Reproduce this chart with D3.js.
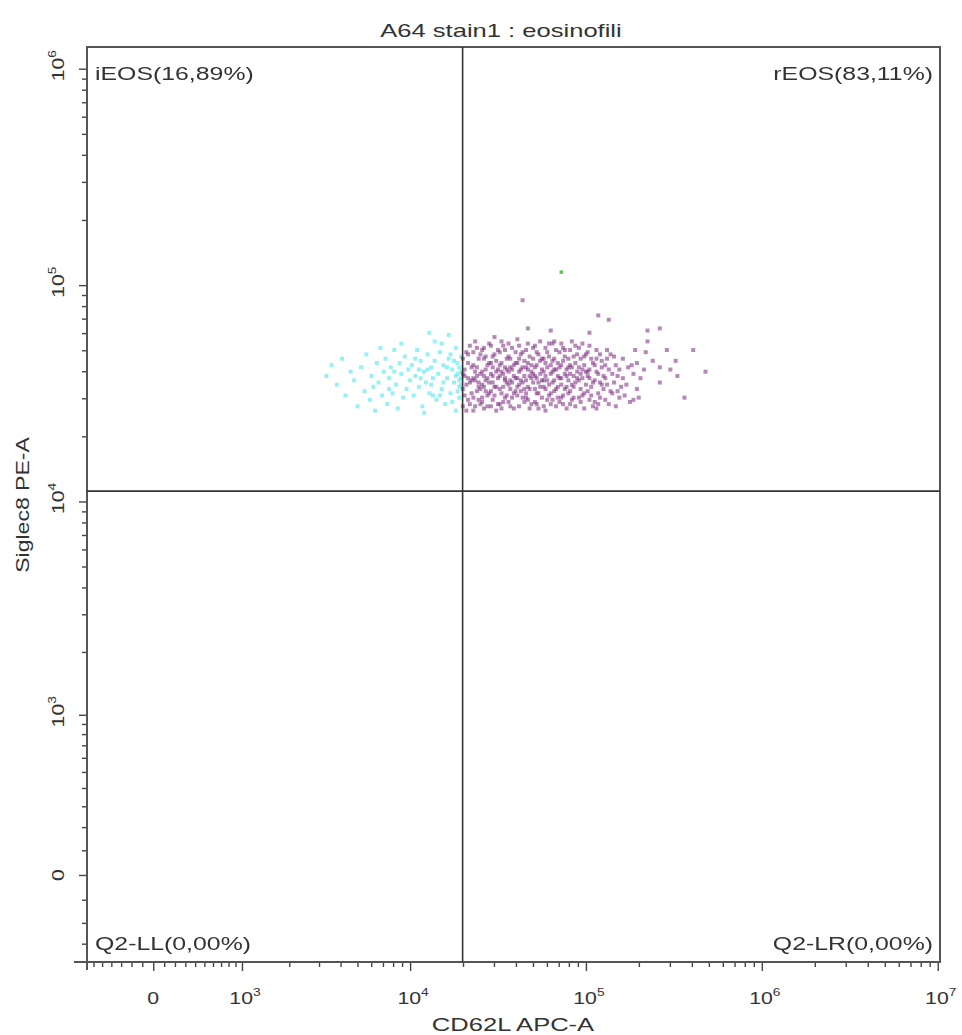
<!DOCTYPE html>
<html>
<head>
<meta charset="utf-8">
<script src="https://cdn.jsdelivr.net/npm/d3@7"></script>
<style>
  body { margin: 0; background: #fff; }
  text { font-family: "Liberation Sans", Arial, sans-serif; fill: #333; }
</style>
</head>
<body>
<svg id="chart" width="962" height="1035"></svg>
<script>
const title = "A64 stain1 : eosinofili";
const xLabel = "CD62L APC-A";
const yLabel = "Siglec8 PE-A";

// biexponential display ranges (raw intensity)
const xDomain = [-680, 1.03e7];
const yDomain = [-400, 1.26e6];
const xMajor = [0, 1e3, 1e4, 1e5, 1e6, 1e7];
const yMajor = [0, 1e3, 1e4, 1e5, 1e6];

// quadrant gate
const gateX = 19900;
const gateY = 11170;
const quadrants = [
  { name: "iEOS(16,89%)", corner: "tl" },
  { name: "rEOS(83,11%)", corner: "tr" },
  { name: "Q2-LL(0,00%)", corner: "bl" },
  { name: "Q2-LR(0,00%)", corner: "br" }
];

// events, log10(CD62L), log10(Siglec8)
const reosLog = [
  [4.30,4.52],[4.31,4.61],[4.33,4.47],[4.32,4.69],[4.34,4.55],[4.30,4.44],[4.31,4.58],[4.33,4.64],[4.35,4.50],[4.32,4.42],
  [4.34,4.72],[4.30,4.66],[4.33,4.57],[4.31,4.49],[4.35,4.62],[4.32,4.54],[4.34,4.45],[4.30,4.59],[4.33,4.68],[4.35,4.56],
  [4.36,4.48],[4.37,4.60],[4.39,4.53],[4.38,4.71],[4.36,4.63],[4.40,4.45],[4.37,4.56],[4.39,4.66],[4.36,4.42],[4.38,4.51],
  [4.40,4.59],[4.37,4.74],[4.39,4.47],[4.36,4.57],[4.38,4.62],[4.40,4.68],[4.37,4.44],[4.39,4.55],[4.36,4.69],[4.38,4.58],[4.40,4.52],
  [4.41,4.46],[4.42,4.58],[4.44,4.63],[4.43,4.51],[4.41,4.70],[4.45,4.55],[4.42,4.43],[4.44,4.49],[4.43,4.67],[4.41,4.60],
  [4.45,4.73],[4.42,4.53],[4.44,4.57],[4.43,4.61],[4.41,4.48],[4.45,4.64],[4.42,4.66],[4.44,4.44],[4.43,4.56],[4.41,4.54],[4.45,4.50],[4.42,4.71],
  [4.46,4.59],[4.47,4.47],[4.49,4.65],[4.48,4.53],[4.46,4.72],[4.50,4.57],[4.47,4.62],[4.49,4.42],[4.48,4.68],[4.46,4.51],
  [4.50,4.45],[4.47,4.55],[4.49,4.60],[4.48,4.49],[4.46,4.64],[4.50,4.70],[4.47,4.58],[4.49,4.53],[4.48,4.76],[4.46,4.44],[4.50,4.61],[4.47,4.67],
  [4.51,4.52],[4.52,4.64],[4.54,4.48],[4.53,4.59],[4.51,4.69],[4.55,4.55],[4.52,4.43],[4.54,4.62],[4.53,4.72],[4.51,4.58],
  [4.55,4.66],[4.52,4.50],[4.54,4.56],[4.53,4.46],[4.51,4.63],[4.55,4.49],[4.52,4.60],[4.54,4.70],[4.53,4.53],[4.51,4.45],[4.55,4.61],[4.52,4.74],[4.54,4.57],
  [4.56,4.54],[4.57,4.66],[4.59,4.50],[4.58,4.61],[4.56,4.73],[4.60,4.57],[4.57,4.44],[4.59,4.63],[4.58,4.48],[4.56,4.60],
  [4.60,4.69],[4.57,4.52],[4.59,4.58],[4.58,4.71],[4.56,4.46],[4.60,4.51],[4.57,4.62],[4.59,4.43],[4.58,4.55],[4.56,4.67],[4.60,4.64],[4.57,4.56],
  [4.61,4.49],[4.62,4.60],[4.64,4.55],[4.63,4.68],[4.61,4.57],[4.65,4.46],[4.62,4.72],[4.64,4.62],[4.63,4.51],[4.61,4.64],
  [4.65,4.58],[4.62,4.44],[4.64,4.69],[4.63,4.56],[4.61,4.53],[4.65,4.65],[4.62,4.54],[4.64,4.48],[4.63,4.61],[4.61,4.75],[4.65,4.52],[4.62,4.66],
  [4.66,4.56],[4.67,4.47],[4.69,4.63],[4.68,4.52],[4.66,4.70],[4.70,4.59],[4.67,4.61],[4.69,4.45],[4.68,4.67],[4.66,4.50],
  [4.70,4.55],[4.67,4.73],[4.69,4.57],[4.68,4.43],[4.66,4.62],[4.70,4.66],[4.67,4.53],[4.69,4.60],[4.68,4.58],[4.66,4.48],[4.70,4.71],[4.67,4.64],
  [4.71,4.58],[4.72,4.50],[4.74,4.65],[4.73,4.55],[4.71,4.72],[4.75,4.61],[4.72,4.45],[4.74,4.53],[4.73,4.68],[4.71,4.62],
  [4.75,4.48],[4.72,4.57],[4.74,4.74],[4.73,4.43],[4.71,4.52],[4.75,4.66],[4.72,4.63],[4.74,4.59],[4.73,4.50],[4.71,4.46],[4.75,4.56],[4.72,4.69],
  [4.76,4.60],[4.77,4.52],[4.79,4.67],[4.78,4.47],[4.76,4.56],[4.80,4.63],[4.77,4.71],[4.79,4.54],[4.78,4.62],[4.76,4.44],
  [4.80,4.50],[4.77,4.58],[4.79,4.73],[4.78,4.56],[4.76,4.66],[4.80,4.45],[4.77,4.64],[4.79,4.49],[4.78,4.69],[4.76,4.53],[4.80,4.59],[4.77,4.42],
  [4.81,4.55],[4.82,4.66],[4.84,4.48],[4.83,4.61],[4.81,4.73],[4.85,4.57],[4.82,4.51],[4.84,4.64],[4.83,4.44],[4.81,4.60],
  [4.85,4.69],[4.82,4.56],[4.84,4.53],[4.83,4.70],[4.81,4.47],[4.85,4.62],[4.82,4.74],[4.84,4.58],[4.83,4.52],[4.81,4.65],[4.85,4.46],[4.82,4.61],
  [4.86,4.63],[4.87,4.49],[4.89,4.58],[4.88,4.70],[4.86,4.54],[4.90,4.66],[4.87,4.45],[4.89,4.61],[4.88,4.52],[4.86,4.73],
  [4.90,4.56],[4.87,4.65],[4.89,4.43],[4.88,4.59],[4.86,4.48],[4.90,4.62],[4.87,4.71],[4.89,4.53],[4.88,4.67],[4.86,4.57],[4.90,4.50],
  [4.91,4.59],[4.92,4.47],[4.94,4.64],[4.93,4.53],[4.91,4.70],[4.95,4.57],[4.92,4.62],[4.94,4.44],[4.93,4.67],[4.91,4.51],
  [4.95,4.60],[4.92,4.74],[4.94,4.55],[4.93,4.48],[4.91,4.63],[4.95,4.68],[4.92,4.54],[4.94,4.72],[4.93,4.58],[4.91,4.45],
  [4.96,4.56],[4.97,4.66],[4.99,4.50],[4.98,4.61],[4.96,4.71],[5.00,4.54],[4.97,4.46],[4.99,4.63],[4.98,4.57],[4.96,4.48],
  [5.00,4.68],[4.97,4.59],[4.99,4.43],[4.98,4.73],[4.96,4.62],[5.00,4.60],[4.97,4.52],[4.99,4.67],[4.98,4.49],
  [5.01,4.58],[5.02,4.47],[5.04,4.64],[5.03,4.53],[5.01,4.69],[5.05,4.56],[5.02,4.61],[5.04,4.44],[5.03,4.66],[5.01,4.51],
  [5.05,4.63],[5.02,4.72],[5.04,4.55],[5.03,4.49],[5.01,4.60],[5.05,4.46],[5.02,4.57],
  [5.06,4.60],[5.07,4.50],[5.09,4.65],[5.08,4.55],[5.06,4.70],[5.10,4.58],[5.07,4.45],[5.09,4.62],[5.08,4.48],[5.06,4.66],
  [5.10,4.52],[5.07,4.59],[5.09,4.54],[5.08,4.68],[5.06,4.43],
  [5.11,4.57],[5.12,4.66],[5.14,4.51],[5.13,4.61],[5.11,4.47],[5.15,4.59],[5.12,4.54],[5.14,4.68],[5.13,4.45],[5.11,4.63],[5.15,4.50],[5.12,4.70],
  [5.16,4.55],[5.17,4.63],[5.19,4.48],[5.18,4.58],[5.16,4.67],[5.20,4.53],[5.17,4.44],[5.19,4.61],[5.18,4.51],
  [5.21,4.57],[5.22,4.49],[5.24,4.62],[5.23,4.54],[5.21,4.66],[5.25,4.46],
  [5.27,4.59],[5.29,4.52],[5.26,4.63],[5.31,4.57],[5.28,4.70],[5.33,4.61],[5.30,4.48],
  [4.64,4.93],[4.67,4.80],[4.80,4.79],[5.07,4.86],[5.13,4.84],[5.02,4.78],[5.35,4.79],[5.42,4.80],[5.35,4.74],[5.34,4.69],
  [5.29,4.64],[5.38,4.65],[5.46,4.70],[5.51,4.65],[5.61,4.70],[5.68,4.60],[5.42,4.62],[5.48,4.61],[5.52,4.58],[5.42,4.55],
  [5.56,4.48],[5.27,4.47]
];
const ieosLog = [
  [3.52,4.58],[3.55,4.63],[3.58,4.54],[3.61,4.66],[3.63,4.49],[3.66,4.60],[3.68,4.56],[3.70,4.44],
  [3.72,4.62],[3.74,4.51],[3.75,4.68],[3.77,4.47],[3.78,4.58],[3.80,4.42],[3.81,4.64],[3.82,4.55],[3.83,4.71],[3.84,4.49],[3.85,4.60],[3.79,4.53],
  [3.86,4.66],[3.87,4.45],[3.88,4.57],[3.89,4.62],[3.90,4.50],[3.91,4.70],[3.92,4.54],[3.93,4.43],[3.94,4.64],[3.95,4.59],
  [3.96,4.48],[3.97,4.67],[3.98,4.52],[3.99,4.61],[4.00,4.56],[3.91,4.60],[3.95,4.73],[3.88,4.52],
  [4.01,4.63],[4.02,4.49],[4.03,4.58],[4.04,4.70],[4.05,4.53],[4.06,4.65],[4.07,4.44],[4.08,4.60],[4.09,4.55],[4.10,4.68],
  [4.11,4.50],[4.12,4.62],[4.13,4.57],[4.14,4.74],[4.15,4.47],[4.03,4.66],[4.06,4.57],[4.08,4.41],[4.10,4.61],[4.12,4.54],
  [4.14,4.65],[4.11,4.78],[4.05,4.61],[4.13,4.49],[4.22,4.77],
  [4.16,4.59],[4.17,4.69],[4.18,4.52],[4.19,4.63],[4.20,4.45],[4.21,4.57],[4.22,4.66],[4.23,4.50],[4.24,4.61],[4.25,4.55],
  [4.26,4.71],[4.26,4.42],[4.27,4.59],[4.27,4.64],[4.28,4.53],[4.28,4.48],[4.29,4.60],[4.29,4.57],[4.29,4.67],[4.28,4.62],
  [4.27,4.51],[4.26,4.58],[4.25,4.65],[4.24,4.46],[4.23,4.68],[4.21,4.62],[4.19,4.55],[4.17,4.49],[4.18,4.73],[4.29,4.54],[4.28,4.56]
];
const otherLog = [[4.86,5.06]];

const xW = 694, yW = 376;
const biex = (v, w) => Math.asinh(v / w) / Math.LN10;

const svg = d3.select("#chart");
const frame = { left: 87, right: 940, top: 47, bottom: 962 };

const xs = d3.scaleLinear()
  .domain(xDomain.map(v => biex(v, xW)))
  .range([frame.left, frame.right]);
const ys = d3.scaleLinear()
  .domain(yDomain.map(v => biex(v, yW)))
  .range([frame.bottom, frame.top]);
const x = v => xs(biex(v, xW));
const y = v => ys(biex(v, yW));

// minor tick values
const linMinor = (lo, hi) => d3.range(lo, hi + 1, 100).filter(v => v !== 0);
const decMinor = (from, to) => {
  const out = [];
  for (let e = from; e <= to; e++) for (let m = 2; m <= 9; m++) out.push(m * Math.pow(10, e));
  return out;
};
const xMinor = linMinor(-600, 900).concat(decMinor(3, 6));
const yMinor = linMinor(-300, 900).concat(decMinor(3, 5));

const tickColor = "#444";
const styleAxis = g => {
  g.select(".domain").remove();
  g.selectAll("line").attr("stroke", tickColor).attr("stroke-width", 1.4);
};

// x axis ticks
svg.append("g")
  .attr("transform", `translate(0,${frame.bottom})`)
  .call(d3.axisBottom(xs).tickValues(xMinor.map(v => biex(v, xW))).tickSize(5).tickFormat(""))
  .call(styleAxis);
svg.append("g")
  .attr("transform", `translate(0,${frame.bottom})`)
  .call(d3.axisBottom(xs).tickValues(xMajor.map(v => biex(v, xW))).tickSize(9).tickFormat(""))
  .call(styleAxis);

// y axis ticks
svg.append("g")
  .attr("transform", `translate(${frame.left},0)`)
  .call(d3.axisLeft(ys).tickValues(yMinor.map(v => biex(v, yW))).tickSize(5).tickFormat(""))
  .call(styleAxis);
svg.append("g")
  .attr("transform", `translate(${frame.left},0)`)
  .call(d3.axisLeft(ys).tickValues(yMajor.map(v => biex(v, yW))).tickSize(8).tickFormat(""))
  .call(styleAxis);

// frame
svg.append("rect")
  .attr("x", frame.left).attr("y", frame.top)
  .attr("width", frame.right - frame.left).attr("height", frame.bottom - frame.top)
  .attr("fill", "none").attr("stroke", "#555").attr("stroke-width", 2);
svg.append("line")
  .attr("x1", frame.left - 13).attr("x2", frame.left)
  .attr("y1", frame.bottom).attr("y2", frame.bottom)
  .attr("stroke", "#555").attr("stroke-width", 2);
svg.append("line")
  .attr("x1", frame.left).attr("x2", frame.left)
  .attr("y1", frame.bottom).attr("y2", frame.bottom + 8)
  .attr("stroke", "#555").attr("stroke-width", 2);

// soft dots, the export is slightly blurred
svg.append("defs").append("filter")
  .attr("id", "soft")
  .attr("x", "-10%").attr("y", "-10%").attr("width", "120%").attr("height", "120%")
  .append("feGaussianBlur").attr("stdDeviation", 0.55);

const dots = svg.append("g").attr("filter", "url(#soft)");
const drawDots = (data, color, op, size) => {
  dots.selectAll(null)
    .data(data)
    .join("rect")
    .attr("x", d => x(Math.pow(10, d[0])) - size / 2)
    .attr("y", d => y(Math.pow(10, d[1])) - size / 2)
    .attr("width", size).attr("height", size)
    .attr("fill", color).attr("opacity", op);
};
drawDots(ieosLog, "#46e4ec", 0.55, 4);
drawDots(reosLog, "#7a2a80", 0.55, 4);
drawDots(otherLog, "#4cc04c", 0.9, 3.5);

// gate lines
svg.append("line")
  .attr("x1", x(gateX)).attr("x2", x(gateX))
  .attr("y1", frame.top).attr("y2", frame.bottom)
  .attr("stroke", "#333").attr("stroke-width", 1.6);
svg.append("line")
  .attr("x1", frame.left).attr("x2", frame.right)
  .attr("y1", y(gateY)).attr("y2", y(gateY))
  .attr("stroke", "#333").attr("stroke-width", 1.6);

// text helper: horizontally widened glyphs like the original export
const label = (parent, tx, ty, rot, anchor, size, sx) => parent.append("text")
  .attr("transform", `translate(${tx},${ty}) rotate(${rot}) scale(${sx},1)`)
  .attr("text-anchor", anchor)
  .attr("font-size", size);

const powLabel = (t, v) => {
  if (v === 0) { t.text("0"); return; }
  t.append("tspan").text("10");
  t.append("tspan").attr("dy", -8).attr("font-size", 11).text(Math.round(Math.log10(v)));
};

xMajor.forEach(v => powLabel(label(svg, x(v) + (v ? 3 : 0), 1004, 0, "middle", 17, 1.25), v));
yMajor.forEach(v => powLabel(label(svg, 64, y(v) - (v ? 3 : 0), -90, "middle", 17, 1.25), v));

label(svg, 501, 37, 0, "middle", 18, 1.42).text(title);
label(svg, 513, 1031, 0, "middle", 18, 1.42).text(xLabel);
label(svg, 29, 505, -90, "middle", 18, 1.28).text(yLabel);

quadrants.forEach(q => {
  const left = q.corner[1] === "l";
  const top = q.corner[0] === "t";
  label(svg, left ? frame.left + 8 : frame.right - 7, top ? 80 : 950, 0, left ? "start" : "end", 18, 1.38)
    .text(q.name);
});
</script>
</body>
</html>
